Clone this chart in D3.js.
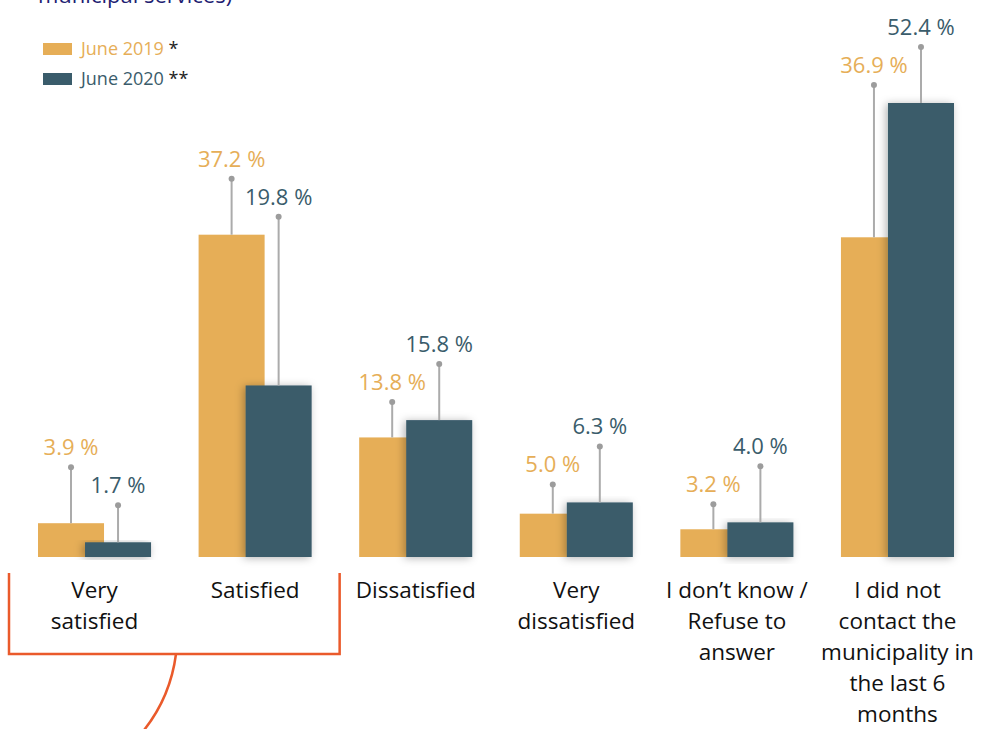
<!DOCTYPE html>
<html>
<head>
<meta charset="UTF-8">
<title>Satisfaction with municipal services</title>
<script src="https://cdnjs.cloudflare.com/ajax/libs/d3/7.8.5/d3.min.js"></script>
<style>
    body { margin: 0; background: #fff; font-family: "Open Sans", "Noto Sans", sans-serif; }
    svg { display: block; }
    .cat { font-size: 22.5px; fill: #111; }
    .val { font-size: 22px; }
    .legend text { font-size: 18px; }
</style>
</head>
<body>
<div id="chart"></div>
<script>
    // categories (multi-line labels)
    const categories = [
        ["Very", "satisfied"],
        ["Satisfied"],
        ["Dissatisfied"],
        ["Very", "dissatisfied"],
        ["I don\u2019t know /", "Refuse to", "answer"],
        ["I did not", "contact the", "municipality in", "the last 6", "months"]
    ];
    const june2019 = [3.9, 37.2, 13.8, 5.0, 3.2, 36.9];
    const june2020 = [1.7, 19.8, 15.8, 6.3, 4.0, 52.4];
    const seriesNames = ["June 2019", "June 2020"];
    const seriesMarks = ["*", "**"];

    const colors = ["#E6AE57", "#3A5C6B"];
    const width = 986, height = 729;
    const baseY = 557;

    const svg = d3.select("#chart").append("svg")
        .attr("width", width)
        .attr("height", height);

    const defs = svg.append("defs");
    defs.append("filter")
        .attr("id", "shade")
        .attr("x", "-30%").attr("y", "-10%")
        .attr("width", "160%").attr("height", "130%")
        .append("feDropShadow")
        .attr("dx", -2).attr("dy", 1)
        .attr("stdDeviation", 4)
        .attr("flood-color", "#000")
        .attr("flood-opacity", 0.3);

    const x = d3.scaleBand()
        .domain(d3.range(categories.length))
        .range([38, 954])
        .paddingInner(0.296)
        .paddingOuter(0);

    const y = d3.scaleLinear()
        .domain([0, 52.4])
        .range([baseY, 103]);

    const barW = x.bandwidth() * 0.584;
    const offsets = [0, x.bandwidth() - barW];

    // title fragment, cut by the top edge as in the source
    svg.append("text")
        .attr("x", 38).attr("y", 3)
        .attr("fill", "#221D72")
        .attr("font-size", 22)
        .attr("font-weight", 500)
        .text("municipal services)");

    // legend
    const legend = svg.append("g").attr("class", "legend");
    seriesNames.forEach((name, i) => {
        const row = legend.append("g").attr("transform", `translate(43,${43 + i * 30})`);
        row.append("rect").attr("width", 29).attr("height", 12).attr("fill", colors[i]);
        const t = row.append("text").attr("x", 38).attr("y", 12);
        t.append("tspan").attr("fill", colors[i]).text(name);
        t.append("tspan").attr("fill", "#222").text(" " + seriesMarks[i]);
    });

    const data = categories.map((c, i) => ({ i, vals: [june2019[i], june2020[i]] }));

    const groups = svg.selectAll("g.group")
        .data(data)
        .join("g")
        .attr("class", "group")
        .attr("transform", d => `translate(${x(d.i)},0)`);

    // bars: 2019 first, 2020 overlapping with shadow
    groups.each(function (d) {
        const g = d3.select(this);
        d.vals.forEach((v, s) => {
            g.append("rect")
                .attr("x", offsets[s])
                .attr("y", y(v))
                .attr("width", barW)
                .attr("height", baseY - y(v))
                .attr("fill", colors[s])
                .attr("filter", s === 1 ? "url(#shade)" : null);
        });
    });

    // leader lines and value labels
    groups.each(function (d) {
        const g = d3.select(this);
        const tall = d.vals[0] >= d.vals[1] ? 0 : 1;
        const tallDot = y(d.vals[tall]) - 56;
        d.vals.forEach((v, s) => {
            const cx = offsets[s] + barW / 2;
            const dotY = s === tall ? tallDot : tallDot + 38;
            g.append("line")
                .attr("x1", cx).attr("x2", cx)
                .attr("y1", y(v)).attr("y2", dotY)
                .attr("stroke", "#ababab")
                .attr("stroke-width", 2);
            g.append("circle")
                .attr("cx", cx).attr("cy", dotY)
                .attr("r", 3)
                .attr("fill", "#9c9c9c");
            g.append("text")
                .attr("class", "val")
                .attr("x", cx).attr("y", dotY - 12)
                .attr("text-anchor", "middle")
                .attr("fill", colors[s])
                .text(v.toFixed(1) + " %");
        });
    });

    // category labels
    groups.append("text")
        .attr("class", "cat")
        .attr("text-anchor", "middle")
        .attr("x", x.bandwidth() / 2)
        .attr("y", 598)
        .selectAll("tspan")
        .data(d => categories[d.i])
        .join("tspan")
        .attr("x", x.bandwidth() / 2)
        .attr("dy", (t, j) => j === 0 ? 0 : 31)
        .text(t => t);

    // bracket grouping the first two categories
    const bx0 = x(0) - 29, bx1 = x(1) + x.bandwidth() + 28;
    svg.append("path")
        .attr("d", `M${bx0},573 V654 H${bx1} V573`)
        .attr("fill", "none")
        .attr("stroke", "#EA5A2B")
        .attr("stroke-width", 2.5);
    svg.append("path")
        .attr("d", "M176,654 Q170,700 140,735")
        .attr("fill", "none")
        .attr("stroke", "#EA5A2B")
        .attr("stroke-width", 2.5);
</script>
</body>
</html>
